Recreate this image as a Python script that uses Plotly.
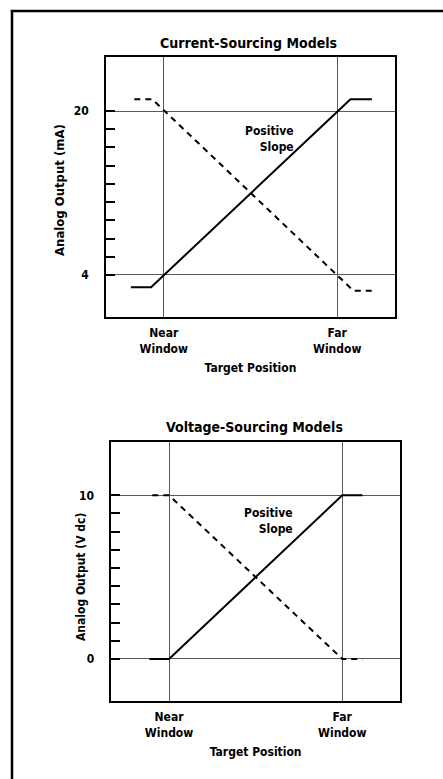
import plotly.graph_objects as go

# ---- data ----
x_tick_vals = [1, 4]
x_tick_text = ["Near<br>Window", "Far<br>Window"]

cur_tick_vals = [4, 20]
cur_tick_text = ["4", "20"]
cur_minor_vals = [5.78, 7.56, 9.33, 11.11, 12.89, 14.67, 16.44, 18.22]
cur_pos_x = [0.43, 0.78, 4.23, 4.6]
cur_pos_y = [2.8, 2.8, 21.15, 21.15]
cur_neg_x = [0.49, 0.8, 4.28, 4.6]
cur_neg_y = [21.15, 21.15, 2.47, 2.47]

volt_tick_vals = [0, 10]
volt_tick_text = ["0", "10"]
volt_minor_vals = [1.11, 2.22, 3.33, 4.44, 5.56, 6.67, 7.78, 8.89]
volt_pos_x = [0.66, 1.0, 4.0, 4.35]
volt_pos_y = [0, 0, 10, 10]
volt_neg_x = [0.71, 1.0, 4.0, 4.35]
volt_neg_y = [10, 10, 0, 0]

W, H = 443, 779
FONT = "Liberation Sans Narrow, DejaVu Sans Condensed, Arial Narrow, sans-serif"

def px(v):
    return v / W

def py(v):
    return 1 - v / H

fig = go.Figure()
line_solid = dict(color="black", width=2)
line_dash = dict(color="black", width=2, dash="6px,5px")

fig.add_trace(go.Scatter(x=cur_pos_x, y=cur_pos_y, mode="lines", line=line_solid,
                         xaxis="x", yaxis="y", showlegend=False, hoverinfo="skip"))
fig.add_trace(go.Scatter(x=cur_neg_x, y=cur_neg_y, mode="lines", line=line_dash,
                         xaxis="x", yaxis="y", showlegend=False, hoverinfo="skip"))
fig.add_trace(go.Scatter(x=volt_pos_x, y=volt_pos_y, mode="lines", line=line_solid,
                         xaxis="x2", yaxis="y2", showlegend=False, hoverinfo="skip"))
fig.add_trace(go.Scatter(x=volt_neg_x, y=volt_neg_y, mode="lines", line=line_dash,
                         xaxis="x2", yaxis="y2", showlegend=False, hoverinfo="skip"))

tick_font = dict(family=FONT, size=12, color="black", weight="bold")
title_font = dict(family=FONT, size=12, color="black", weight="bold")

def xaxis(domain, anchor):
    return dict(domain=domain, anchor=anchor, range=[0, 5],
                tickmode="array", tickvals=x_tick_vals, ticktext=x_tick_text,
                showgrid=True, gridcolor="#5a5a5a", gridwidth=1,
                showline=True, mirror=True, linecolor="black", linewidth=1.5,
                ticks="", zeroline=False, tickfont=tick_font,
                ticklabelstandoff=4,
                title=dict(text="Target Position", font=title_font, standoff=9),
                fixedrange=True)

def yaxis(domain, anchor, rng, vals, text, minor_vals):
    return dict(domain=domain, anchor=anchor, range=rng,
                tickmode="array", tickvals=vals, ticktext=text,
                showgrid=True, gridcolor="#5a5a5a", gridwidth=1,
                showline=True, mirror=True, linecolor="black", linewidth=1.5,
                ticks="inside", ticklen=9, tickwidth=1.5, tickcolor="black",
                minor=dict(tickmode="array", tickvals=minor_vals, ticks="inside",
                           ticklen=9, tickwidth=1.5, tickcolor="black", showgrid=False),
                zeroline=False, tickfont=tick_font, ticklabelstandoff=13,
                fixedrange=True)

border = dict(color="black", width=2.5)

fig.update_layout(
    width=W, height=H,
    margin=dict(l=0, r=0, t=0, b=0),
    paper_bgcolor="white", plot_bgcolor="white",
    xaxis=xaxis([px(106), px(395)], "y"),
    yaxis=yaxis([py(317), py(57)], "x", [-0.1, 25.27], cur_tick_vals, cur_tick_text, cur_minor_vals),
    xaxis2=xaxis([px(111.3), px(400)], "y2"),
    yaxis2=yaxis([py(701), py(442.3)], "x2", [-2.57, 13.24], volt_tick_vals, volt_tick_text, volt_minor_vals),
    shapes=[
        dict(type="line", xref="paper", yref="paper",
             x0=px(10.8), x1=1, y0=py(11), y1=py(11), line=border, layer="above"),
        dict(type="line", xref="paper", yref="paper",
             x0=px(12), x1=px(12), y0=py(10), y1=0, line=border, layer="above"),
    ],
    annotations=[
        dict(text="Current-Sourcing Models", xref="paper", yref="paper",
             x=px(249), y=py(43), showarrow=False, xanchor="center", yanchor="middle",
             font=dict(family=FONT, size=14, color="black", weight="bold")),
        dict(text="Voltage-Sourcing Models", xref="paper", yref="paper",
             x=px(254), y=py(427), showarrow=False, xanchor="center", yanchor="middle",
             font=dict(family=FONT, size=14, color="black", weight="bold")),
        dict(text="Analog Output (mA)", xref="paper", yref="paper",
             x=px(59), y=py(190), showarrow=False, textangle=-90,
             xanchor="center", yanchor="middle",
             font=dict(family=FONT, size=13, color="black", weight="bold")),
        dict(text="Analog Output (V dc)", xref="paper", yref="paper",
             x=px(81), y=py(577), showarrow=False, textangle=-90,
             xanchor="center", yanchor="middle",
             font=dict(family=FONT, size=12, color="black", weight="bold")),
        dict(text="Positive<br>Slope", xref="x", yref="y", x=3.28, y=17.3,
             showarrow=False, xanchor="right", yanchor="middle", align="right",
             font=tick_font),
        dict(text="Positive<br>Slope", xref="x2", yref="y2", x=3.18, y=8.43,
             showarrow=False, xanchor="right", yanchor="middle", align="right",
             font=tick_font),
    ],
)

fig.write_html("out.html", config={"displayModeBar": False},
               post_script="document.body.style.margin='0';document.body.style.overflow='hidden';")
